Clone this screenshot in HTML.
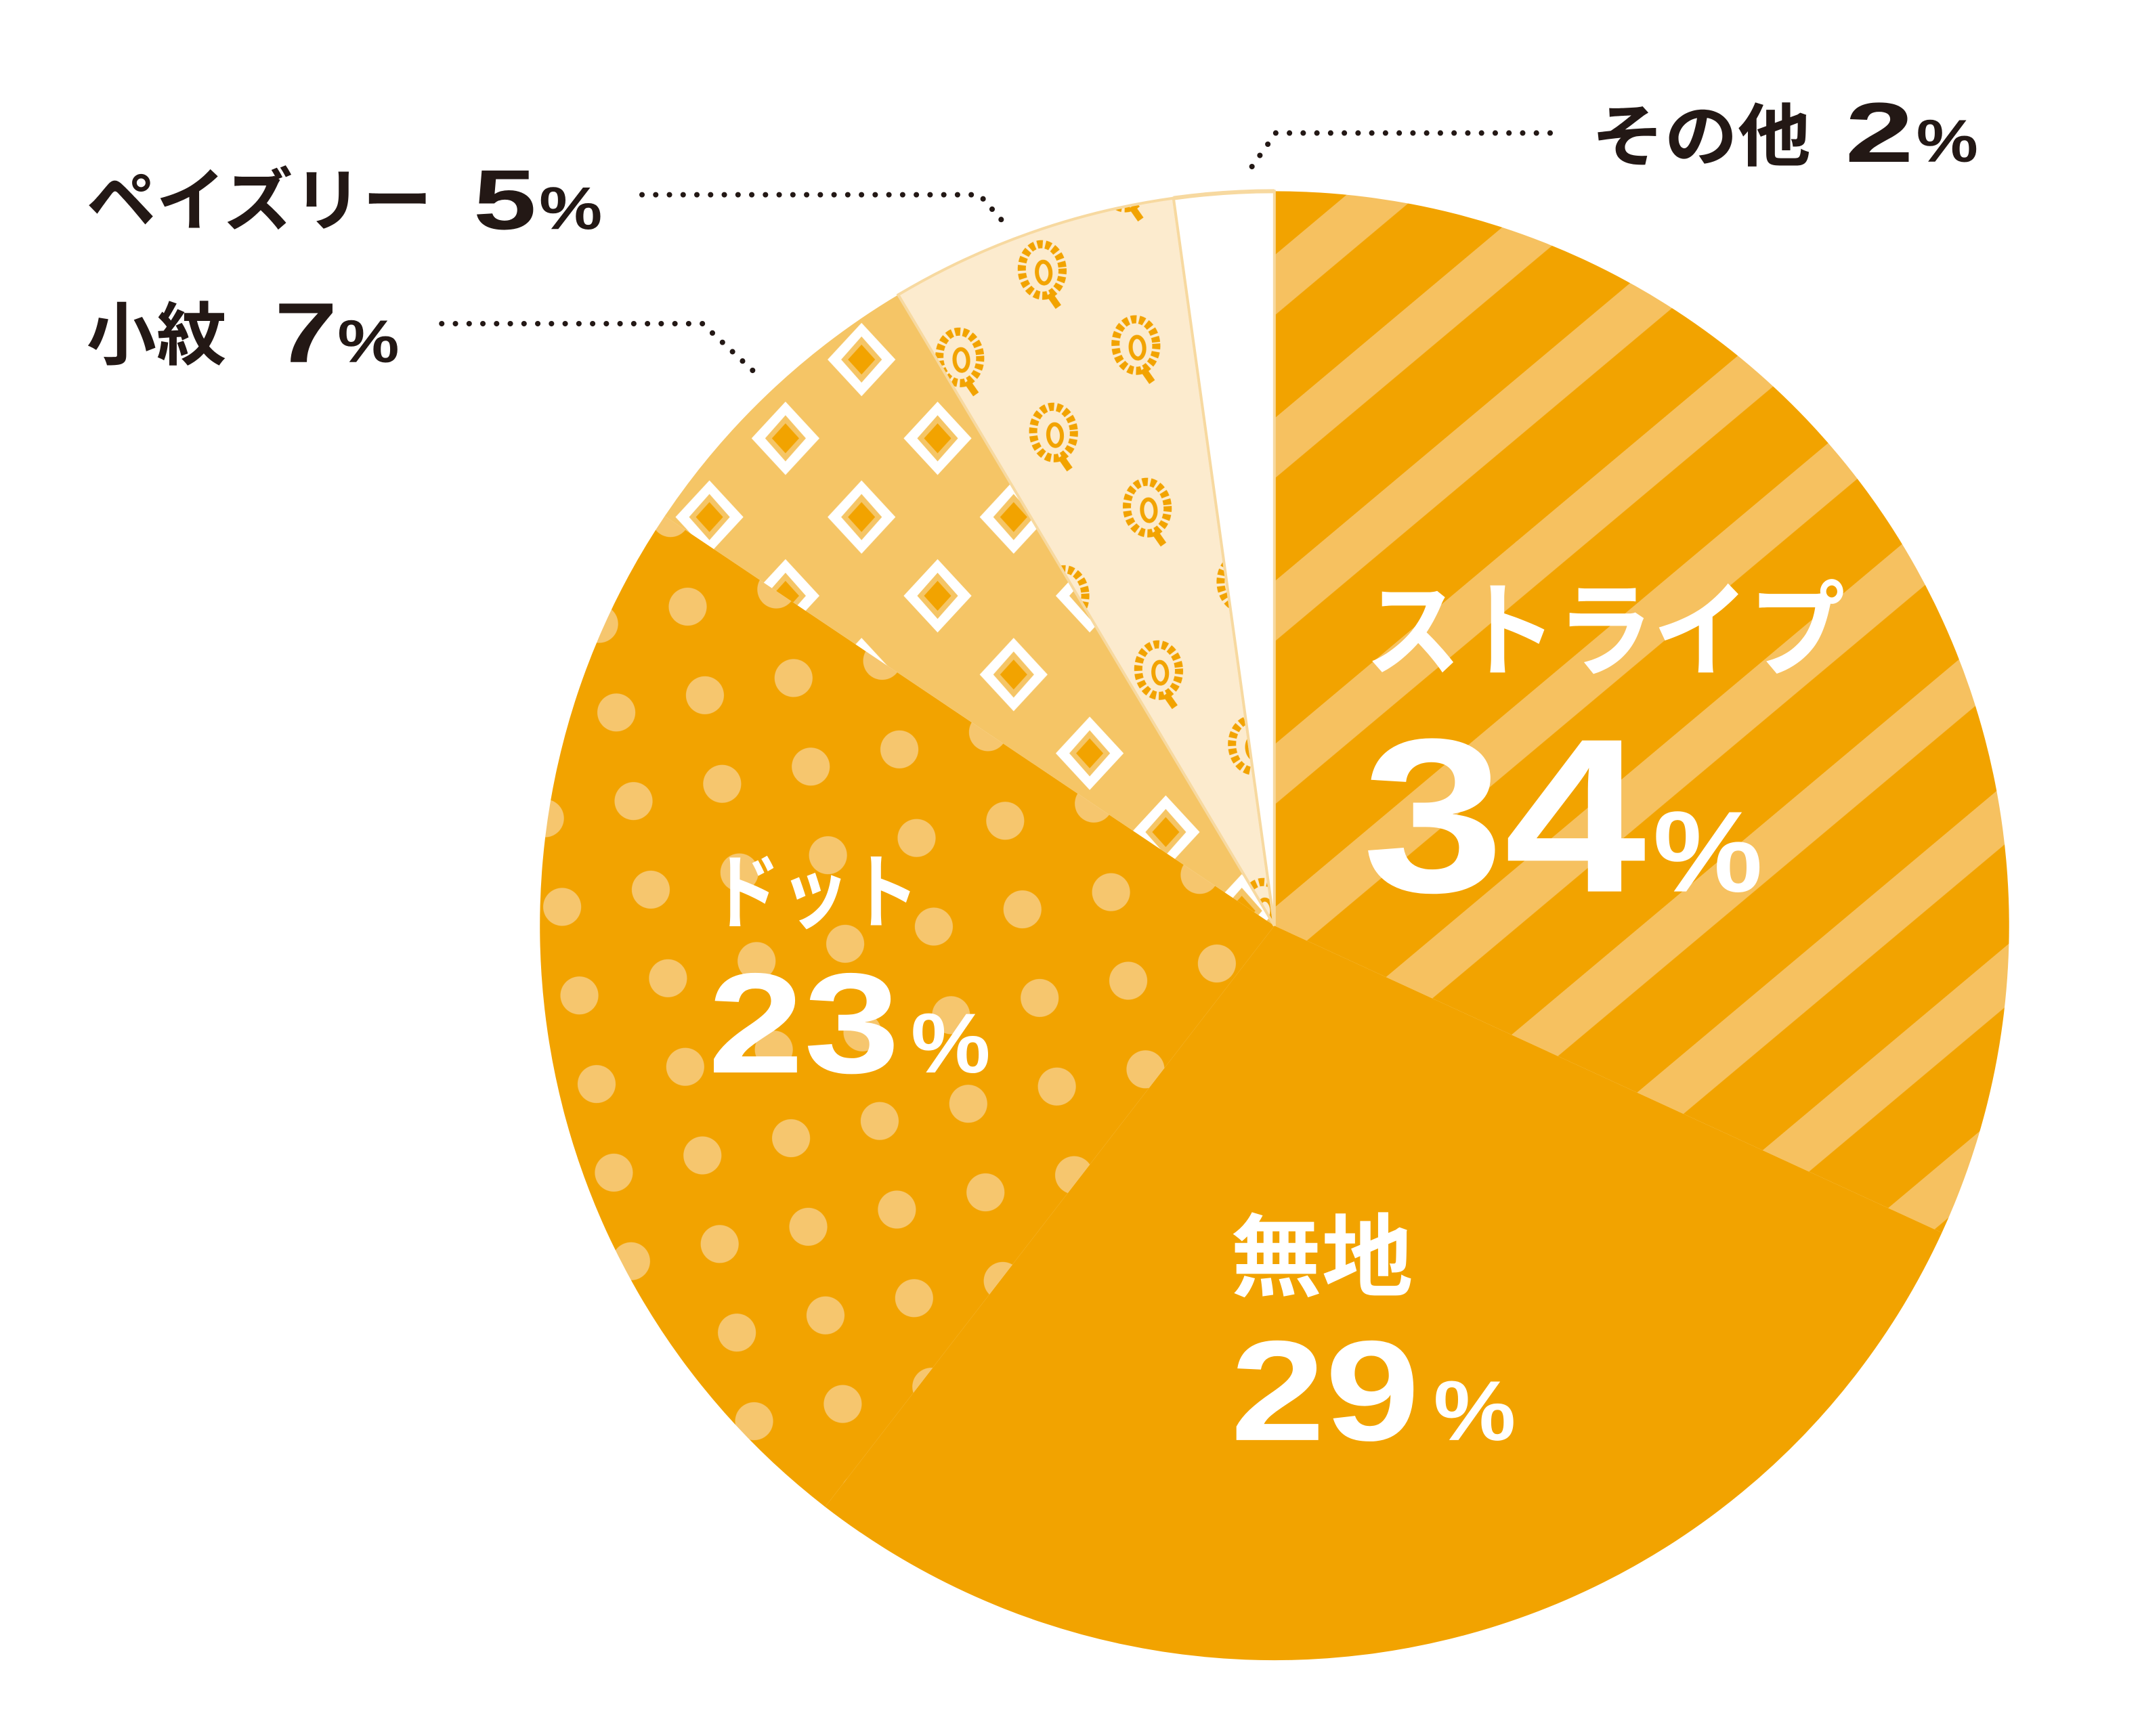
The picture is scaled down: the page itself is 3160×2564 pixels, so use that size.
<!DOCTYPE html>
<html><head><meta charset="utf-8"><style>
html,body{margin:0;padding:0;background:#fff;}
svg{display:block;}
.w{fill:#fff;font-family:"Liberation Sans","Noto Sans CJK JP",sans-serif;font-weight:bold;}
.k{fill:#231815;font-family:"Liberation Sans","Noto Sans CJK JP",sans-serif;font-weight:bold;}
</style></head><body>
<svg width="3160" height="2564" viewBox="0 0 1560 1265.8" xmlns="http://www.w3.org/2000/svg">
<defs>
<pattern id="stripe" patternUnits="userSpaceOnUse" width="92" height="92" patternTransform="rotate(-40)">
<rect width="92" height="92" fill="#F2A300"/>
<rect y="0" width="92" height="34" fill="#F6C160"/>
</pattern>
<pattern id="dots" patternUnits="userSpaceOnUse" width="94" height="94" patternTransform="translate(497,440) rotate(34)">
<rect width="94" height="94" fill="#F2A300"/>
<circle cx="0" cy="0" r="14" fill="#F6C66E"/><circle cx="94" cy="0" r="14" fill="#F6C66E"/>
<circle cx="0" cy="94" r="14" fill="#F6C66E"/><circle cx="94" cy="94" r="14" fill="#F6C66E"/>
<circle cx="47" cy="47" r="14" fill="#F6C66E"/>
</pattern>
<g id="dia">
<polygon points="0,-27 25,0 0,27 -25,0" fill="#fff"/>
<polygon points="0,-17 15,0 0,17 -15,0" fill="#F5C566"/>
<polygon points="0,-11 10,0 0,11 -10,0" fill="#F2A300"/>
</g>
<pattern id="komon" patternUnits="userSpaceOnUse" width="112" height="116" patternTransform="translate(625,258)">
<rect width="112" height="116" fill="#F5C566"/>
<use href="#dia" x="0" y="0"/><use href="#dia" x="112" y="0"/><use href="#dia" x="0" y="116"/><use href="#dia" x="112" y="116"/>
<use href="#dia" x="56" y="58"/>
</pattern>
<g id="pz">
<ellipse cx="0" cy="0" rx="15" ry="19" fill="none" stroke="#F2A300" stroke-width="6" stroke-dasharray="4 2"/>
<ellipse cx="1" cy="2" rx="5" ry="8" fill="none" stroke="#F2A300" stroke-width="3"/>
<path d="M4,18 L10,28" stroke="#F2A300" stroke-width="5"/>
</g>
<pattern id="paisley" patternUnits="userSpaceOnUse" width="130" height="120" patternTransform="translate(758,192) rotate(-4)">
<rect width="130" height="120" fill="#FCEBCE"/>
<use href="#pz" x="0" y="0"/><use href="#pz" x="130" y="0"/><use href="#pz" x="0" y="120"/><use href="#pz" x="130" y="120"/>
<use href="#pz" x="65" y="60"/>
</pattern>
</defs>
<g transform="translate(929,675) scale(0.99) translate(-929,-675)">
<path d="M929,675 L929,134 A541,541 0 0 1 1420.5,901.1 Z" fill="url(#stripe)"/>
<path d="M929,675 L1420.5,901.1 A541,541 0 0 1 598.2,1103 Z" fill="#F2A300"/>
<path d="M929,675 L598.2,1103 A541,541 0 0 1 480.1,373.3 Z" fill="url(#dots)"/>
<path d="M929,675 L480.1,373.3 A541,541 0 0 1 652,210.3 Z" fill="url(#komon)"/>
<path d="M929,675 L652,210.3 A541,541 0 0 1 854.7,139.1 Z" fill="url(#paisley)" stroke="#F7D9A0" stroke-width="2"/>
<path d="M929,675 L854.7,139.1 A541,541 0 0 1 929,134 Z" fill="#fff" stroke="#F7D9A0" stroke-width="2"/>
<path d="M854.7,139.1 A541,541 0 0 1 929,134" fill="none" stroke="#F7D9A0" stroke-width="3"/>
</g>
<g fill="none" stroke="#231815" stroke-width="4" stroke-linecap="round" stroke-dasharray="0 10">
<path d="M1130,97 L930,97 L908,128"/>
<path d="M468,142 L714,142 L735,166"/>
<path d="M322,236 L512,236 L555,276"/>
</g>
<text class="k" x="1160" y="117" font-size="50" textLength="160" lengthAdjust="spacingAndGlyphs">その他</text>
<text class="k" x="1345" y="118" font-size="62" textLength="50" lengthAdjust="spacingAndGlyphs">2</text>
<text class="k" x="1397" y="118" font-size="44" textLength="45" lengthAdjust="spacingAndGlyphs">%</text>
<text class="k" x="63" y="164" font-size="50" textLength="252" lengthAdjust="spacingAndGlyphs">ペイズリー</text>
<text class="k" x="345" y="167" font-size="62" textLength="46" lengthAdjust="spacingAndGlyphs">5</text>
<text class="k" x="393" y="167" font-size="44" textLength="46" lengthAdjust="spacingAndGlyphs">%</text>
<text class="k" x="63" y="262" font-size="50" textLength="102" lengthAdjust="spacingAndGlyphs">小紋</text>
<text class="k" x="200" y="264" font-size="62" textLength="46" lengthAdjust="spacingAndGlyphs">7</text>
<text class="k" x="246" y="264" font-size="44" textLength="45" lengthAdjust="spacingAndGlyphs">%</text>
<text class="w" x="995" y="487" font-size="76" textLength="350" lengthAdjust="spacingAndGlyphs">ストライプ</text>
<text class="w" x="993" y="650" font-size="160" textLength="207" lengthAdjust="spacingAndGlyphs">34</text>
<text class="w" x="1205" y="650" font-size="84" textLength="80" lengthAdjust="spacingAndGlyphs">%</text>
<text class="w" x="897" y="940" font-size="66" textLength="133" lengthAdjust="spacingAndGlyphs">無地</text>
<text class="w" x="897" y="1050" font-size="104" textLength="138" lengthAdjust="spacingAndGlyphs">29</text>
<text class="w" x="1045" y="1050" font-size="62" textLength="60" lengthAdjust="spacingAndGlyphs">%</text>
<text class="w" x="518" y="672" font-size="60" textLength="152" lengthAdjust="spacingAndGlyphs">ドット</text>
<text class="w" x="516" y="782" font-size="104" textLength="140" lengthAdjust="spacingAndGlyphs">23</text>
<text class="w" x="664" y="782" font-size="62" textLength="58" lengthAdjust="spacingAndGlyphs">%</text>
</svg>
</body></html>
